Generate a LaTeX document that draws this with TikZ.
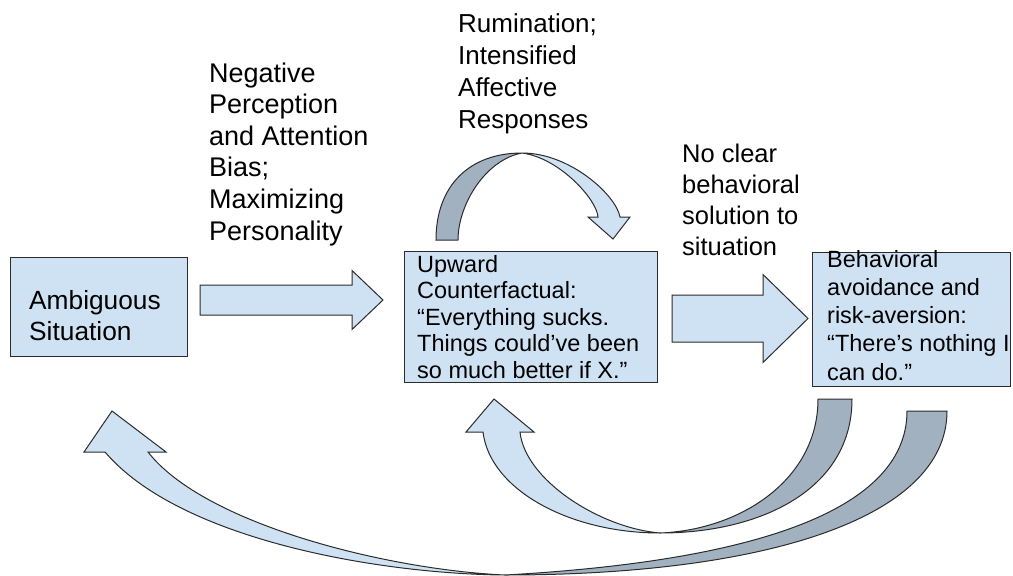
\documentclass[tikz,border=0pt]{standalone}
\usepackage{fontspec}
\setmainfont{Liberation Sans}
\usepackage{tikz}
\usetikzlibrary{calc,positioning}

\definecolor{boxblue}{HTML}{CFE2F3}
\definecolor{bandgray}{RGB}{162,177,192}
\definecolor{edgegray}{HTML}{2B2B2B}

\tikzset{
  box/.style={draw=edgegray, fill=boxblue, line width=1pt, inner sep=0pt},
  boxtext/.style={anchor=base west, inner sep=0pt, align=left, font=\fontsize{23.5}{26.6}\selectfont},
  lbl/.style={anchor=base west, inner sep=0pt, align=left, font=\fontsize{26}{31.6}\selectfont},
  fatarrow/.style={draw=edgegray, fill=boxblue, line width=1pt, line join=miter},
  backband/.style={draw=edgegray, fill=bandgray, line width=1pt},
}

% tail, tip, half shaft, half head, head length
\newcommand{\blockarrow}[5]{%
  \draw[fatarrow] ($(#1)+(0,#3)$) -- ($(#2)+(-#5,#3)$) -- ($(#2)+(-#5,#4)$) -- (#2)
    -- ($(#2)+(-#5,-#4)$) -- ($(#2)+(-#5,-#3)$) -- ($(#1)+(0,-#3)$) -- cycle;}

\begin{document}
\begin{tikzpicture}[x=1pt, y=-1pt]
    \useasboundingbox (0,0) rectangle (1013,576);

    \node[box, minimum width=177, minimum height=99] (amb) at (98.5,306.5) {};
    \node[box, minimum width=253, minimum height=131] (upw) at (530.5,316.5) {};
    \node[box, minimum width=198, minimum height=134] (beh) at (911,319) {};

    % anchors sit on the last line
    \node[lbl, font=\fontsize{26.3}{31}\selectfont] (ambtxt) at (29,340) {Ambiguous\\Situation};
    \node[boxtext] (upwtxt) at (417,378.4) {Upward\\Counterfactual:\\“Everything sucks.\\Things could’ve been\\so much better if X.”};
    \node[boxtext, font=\fontsize{23.5}{28.3}\selectfont] (behtxt) at (827,380.2) {Behavioral\\avoidance and\\risk-aversion:\\“There’s nothing I\\can do.”};

    \node[lbl, font=\fontsize{27}{31.6}\selectfont] (neglbl) at (209,240) {Negative\\Perception\\and Attention\\Bias;\\Maximizing\\Personality};
    \node[lbl, font=\fontsize{26}{32}\selectfont] (rumlbl) at (458,128) {Rumination;\\Intensified\\Affective\\Responses};
    \node[lbl, font=\fontsize{25.5}{31}\selectfont] (clearlbl) at (682,255) {No clear\\behavioral\\solution to\\situation};

    \coordinate (a1s) at (200,300);
    \coordinate (a1e) at (383,300);
    \coordinate (a2s) at (672,318.5);
    \coordinate (a2e) at (808,318.5);
    \blockarrow{a1s}{a1e}{15}{29.5}{31}
    \blockarrow{a2s}{a2e}{23.5}{44}{45}

    % loop over the counterfactual
    \draw[backband] (436,240) .. controls (436,185) and (470,153) .. (522,153)
        .. controls (485,160) and (458,205) .. (458,240) -- cycle;
    \draw[fatarrow] (522,153) .. controls (570,153) and (616,195) .. (620,217)
        -- (630,217) -- (613,239) -- (588,217) -- (598,217)
        .. controls (597,200) and (560,158) .. (522,153) -- cycle;

    % back to the counterfactual
    \draw[backband] (852,399) .. controls (852,490) and (760,533) .. (660,533)
        .. controls (740,530) and (818,480) .. (818,399) -- cycle;
    \draw[fatarrow] (660,533) .. controls (570,533) and (490,490) .. (483,432)
        -- (466,432) -- (494,399) -- (534,432) -- (520,432)
        .. controls (525,480) and (600,528) .. (660,533) -- cycle;

    % back to the situation
    \draw[backband] (947,411) .. controls (947,520) and (760,575) .. (505,575)
        .. controls (740,562) and (907,515) .. (907,411) -- cycle;
    \draw[fatarrow] (505,575) .. controls (380,574) and (180,540) .. (105,452)
        -- (84,452) -- (112,411) -- (166,452) -- (148,452)
        .. controls (205,525) and (390,570) .. (505,575) -- cycle;
\end{tikzpicture}
\end{document}
